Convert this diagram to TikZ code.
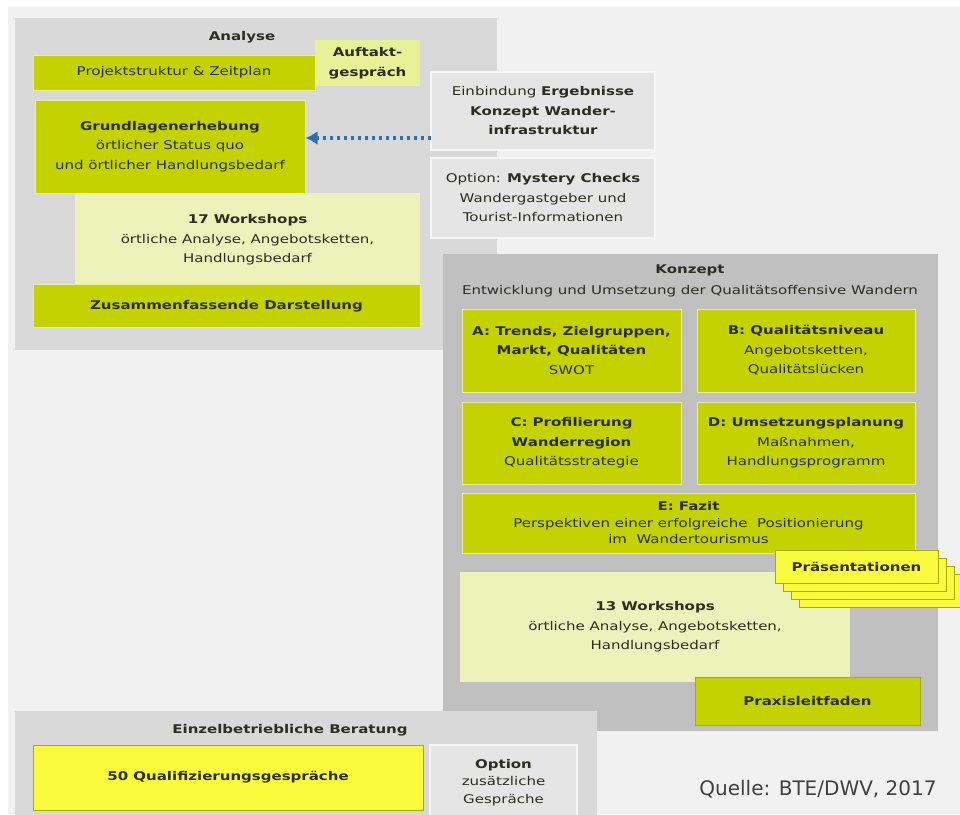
\documentclass[tikz,border=0pt]{standalone}
\usepackage{fontspec}
\setmainfont{DejaVu Sans}[FakeStretch=1.25]
\newfontfamily\quellefont{DejaVu Sans}
\usetikzlibrary{shapes,arrows,arrows.meta}
\definecolor{bgpage}{RGB}{241,241,241}
\definecolor{grauA}{RGB}{217,217,217}
\definecolor{grauK}{RGB}{192,192,192}
\definecolor{grauO}{RGB}{229,229,229}
\definecolor{lime}{RGB}{196,210,0}
\definecolor{limerand}{RGB}{232,238,160}
\definecolor{blass}{RGB}{237,241,186}
\definecolor{auftakt}{RGB}{232,241,150}
\definecolor{gelb}{RGB}{250,250,60}
\definecolor{olivrand}{RGB}{165,175,0}
\definecolor{txt}{RGB}{45,45,35}
\definecolor{pfeil}{RGB}{46,110,180}

\begin{document}
\begin{tikzpicture}
  [x=1pt,y=-1pt,
   every node/.style={inner sep=0pt,align=center,text=txt,font=\fontsize{12}{19.5}\selectfont},
   sz/.style 2 args={minimum width=#1pt,minimum height=#2pt},
   phase/.style={fill=grauA},
   konzeptbg/.style={fill=grauK},
   optbox/.style={fill=grauO,draw=white!70!grauO,line width=1.5pt},
   limebox/.style={fill=lime,draw=limerand,line width=1pt},
   blassbox/.style={fill=blass},
   gelbbox/.style={fill=gelb,draw=olivrand,line width=1pt},
   titel/.style={font=\fontsize{12}{19.5}\selectfont\bfseries}]

  \clip (0,0) rectangle (960,814);
  \fill[white] (0,0) rectangle (960,814);
  \fill[bgpage] (8,7) rectangle (960,814);

  \node[phase,sz={482}{332}] (analyse) at (256,184) {};
  \node[titel] (analyseT) at (242,37) {Analyse};
  \node[limebox,sz={282}{35}] (projekt) at (174,72.5) {Projektstruktur \& Zeitplan};
  \node[fill=auftakt,sz={105}{46}] (auftakt) at (367.5,63) {\textbf{Auftakt-}\\\textbf{gespräch}};
  \node[limebox,sz={270}{93}] (grund) at (170,146.5)
    {\textbf{Grundlagenerhebung}\\örtlicher Status quo\\und örtlicher Handlungsbedarf};
  \node[blassbox,sz={345}{94}] (ws17) at (247.5,240)
    {\textbf{17 Workshops}\\örtliche Analyse, Angebotsketten,\\Handlungsbedarf};
  \node[limebox,sz={387}{43}] (zusammen) at (226.5,306) {\textbf{Zusammenfassende Darstellung}};

  \node[optbox,sz={224}{78}] (einbindung) at (543,111)
    {Einbindung \textbf{Ergebnisse}\\\textbf{Konzept Wander-}\\\textbf{infrastruktur}};
  \node[optbox,sz={224}{80}] (mystery) at (543,198)
    {Option: \textbf{Mystery Checks}\\Wandergastgeber und\\Tourist-Informationen};

  \coordinate (pfeilS) at (431,138);
  \draw[pfeil,line width=3.5pt,dash pattern=on 3.5pt off 3.5pt,-{Latex[length=12pt,width=14pt]}]
    (pfeilS) -- (pfeilS -| grund.east);

  \node[konzeptbg,sz={495}{477}] (konzept) at (690.5,492.5) {};
  \node[titel] (konzeptT) at (690,270) {Konzept};
  \node (konzeptU) at (690,291) {Entwicklung und Umsetzung der Qualitätsoffensive Wandern};
  \node[limebox,sz={219}{83}] (A) at (571.5,350.5)
    {\textbf{A: Trends, Zielgruppen,}\\\textbf{Markt, Qualitäten}\\SWOT};
  \node[limebox,sz={218}{83}] (B) at (806,350.5)
    {\textbf{B: Qualitätsniveau}\\Angebotsketten,\\Qualitätslücken};
  \node[limebox,sz={219}{82}] (C) at (571.5,443)
    {\textbf{C: Profilierung}\\\textbf{Wanderregion}\\Qualitätsstrategie};
  \node[limebox,sz={218}{82}] (D) at (806,443)
    {\textbf{D: Umsetzungsplanung}\\Maßnahmen,\\Handlungsprogramm};
  \node[limebox,sz={453}{60}] (E) at (688.5,523)
    {\textbf{E: Fazit}\\[-3pt]Perspektiven einer erfolgreiche\ \ Positionierung\\[-3pt]im\ \ Wandertourismus};
  \node[blassbox,sz={390}{110}] (ws13) at (655,627)
    {\textbf{13 Workshops}\\örtliche Analyse, Angebotsketten,\\Handlungsbedarf};

  \foreach \d in {24,16,8}
    \node[gelbbox,sz={163}{33}] (praes\d) at ({856.5+\d},{566.5+\d}) {};
  \node[gelbbox,sz={163}{33}] (praes) at (856.5,566.5) {\textbf{Präsentationen}};
  \node[limebox,draw=olivrand,sz={225}{48}] (praxis) at (807.5,701) {\textbf{Praxisleitfaden}};

  \node[phase,sz={582}{119}] (einzel) at (306,770.5) {};
  \node[titel] (einzelT) at (290,730) {Einzelbetriebliche Beratung};
  \node[gelbbox,sz={390}{65}] (quali) at (228,777.5) {\textbf{50 Qualifizierungsgespräche}};
  \node[optbox,sz={147}{75}] (optionG) at (503.5,782.5)
    {\textbf{Option}\\[-2pt]zusätzliche\\[-2pt]Gespräche};

  \node[font=\quellefont\fontsize{20}{24}\selectfont,text=black!75] (quelle) at (818,789) {Quelle: BTE/DWV, 2017};

\end{tikzpicture}
\end{document}
